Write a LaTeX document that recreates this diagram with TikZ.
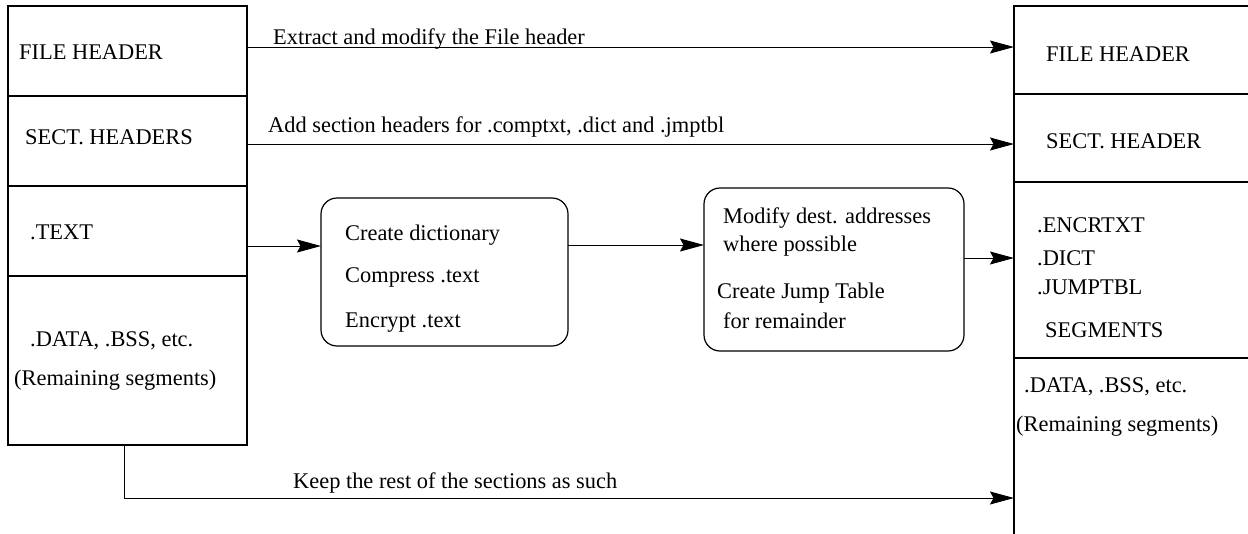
\documentclass[tikz,border=0pt]{standalone}
\usepackage{fontspec}
\setmainfont{Liberation Serif}
\usetikzlibrary{arrows.meta, positioning}

\begin{document}
\begin{tikzpicture}[x=1pt, y=-1pt,
		% Define styles for the segments, steps and arrows
		seg_box/.style={
			rectangle,
			draw,
			line width=1.2pt,
			inner sep=0pt,
			outer sep=0pt,
			minimum width=239pt
		},
		out_box/.style={
			seg_box,
			minimum width=248pt
		},
		step_box/.style={
			rectangle,
			draw,
			line width=1.2pt,
			inner sep=0pt,
			outer sep=0pt,
			rounded corners=16pt
		},
		txt/.style={
			anchor=base west,
			inner sep=0pt,
			font=\fontsize{22.4}{27}\selectfont
		},
		flow/.style={
			-{Stealth[length=24pt, width=13pt, inset=3.5pt]},
			line width=1pt
		},
		]
		
		\useasboundingbox (0,0) rectangle (1248,533);
		\clip (0,0) rectangle (1248,533);
		
		% ----- Nodes -----
		% Input file segments
		\node[seg_box, minimum height=90pt] (in_fh) at (127.5,51) {};
		\node[seg_box, minimum height=90pt, below=0pt of in_fh] (in_sh) {};
		\node[seg_box, minimum height=90pt, below=0pt of in_sh] (in_text) {};
		\node[seg_box, minimum height=169pt, below=0pt of in_text] (in_data) {};
		
		\node[txt] at (19,59) {FILE HEADER};
		\node[txt] at (25,144) {SECT. HEADERS};
		\node[txt] at (30,239) {.TEXT};
		\node[txt] at (30,346) {.DATA, .BSS, etc.};
		\node[txt] at (14,385) {(Remaining segments)};
		
		% Output file segments
		\node[out_box, minimum height=88pt] (out_fh) at (1138,50) {};
		\node[out_box, minimum height=88pt, below=0pt of out_fh] (out_sh) {};
		\node[out_box, minimum height=176pt, below=0pt of out_sh] (out_seg) {};
		\node[out_box, minimum height=187pt, below=0pt of out_seg] (out_data) {};
		
		\node[txt] at (1046,61) {FILE HEADER};
		\node[txt] at (1046,148) {SECT. HEADER};
		\node[txt] at (1037,232) {.ENCRTXT};
		\node[txt] at (1037,265) {.DICT};
		\node[txt] at (1037,294) {.JUMPTBL};
		\node[txt] at (1045,337) {SEGMENTS};
		\node[txt] at (1024,392) {.DATA, .BSS, etc.};
		\node[txt] at (1016,431) {(Remaining segments)};
		
		% Processing steps
		\node[step_box, minimum width=247pt, minimum height=148pt] (compress) at (444.5,272) {};
		\node[txt] at (345,240) {Create dictionary};
		\node[txt] at (345,282) {Compress .text};
		\node[txt] at (345,327) {Encrypt .text};
		
		\node[step_box, minimum width=260pt, minimum height=163pt] (modify) at (834,269.5) {};
		\node[txt] at (723,223) {Modify dest. addresses};
		\node[txt] at (723,251) {where possible};
		\node[txt] at (717,298) {Create Jump Table};
		\node[txt] at (723,328) {for remainder};
		
		% ----- Arrows -----
		\draw[flow] ([yshift=4pt]in_fh.east) -- ([yshift=4pt]in_fh.east -| out_fh.west);
		\node[txt] at (273,44) {Extract and modify the File header};
		
		\draw[flow] ([yshift=-3pt]in_sh.east) -- ([yshift=-3pt]in_sh.east -| out_sh.west);
		\node[txt] at (268,132) {Add section headers for .comptxt, .dict and .jmptbl};
		
		\draw[flow] ([yshift=-15pt]in_text.east) -- ([yshift=-15pt]in_text.east -| compress.west);
		\draw[flow] ([yshift=27pt]compress.east) -- ([yshift=27pt]compress.east -| modify.west);
		\draw[flow] ([yshift=11.5pt]modify.east) -- ([yshift=11.5pt]modify.east -| out_seg.west);
		
		\draw[flow] ([xshift=-3pt]in_data.south) |- ([yshift=-46.5pt]out_data.west);
		\node[txt] at (293,488) {Keep the rest of the sections as such};
		
	\end{tikzpicture}
\end{document}
